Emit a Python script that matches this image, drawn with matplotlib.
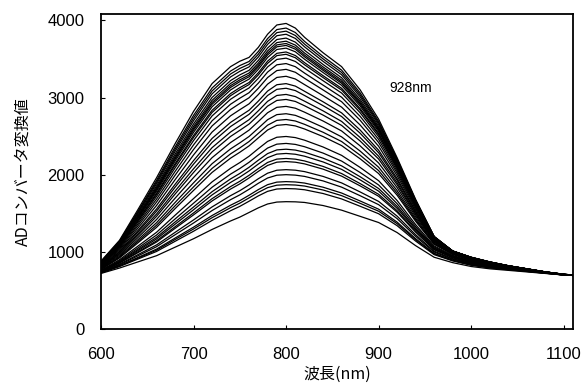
import numpy as np
import matplotlib.pyplot as plt

# wavelength grid [nm]
wavelength = [600, 620, 640, 660, 680, 700, 720, 740, 750, 760, 770, 780,
              790, 800, 810, 820, 840, 860, 880, 900, 920, 940, 960, 980,
              1000, 1020, 1040, 1060, 1080, 1100, 1110]
# brightest and weakest spectrum
top_spectrum = [880, 1150, 1550, 1960, 2400, 2820, 3180, 3400, 3470, 3520,
                3650, 3820, 3940, 3960, 3900, 3780, 3580, 3400, 3100, 2720,
                2220, 1680, 1200, 1010, 930, 870, 820, 780, 740, 710, 700]
low_spectrum = [720, 790, 870, 950, 1060, 1170, 1290, 1400, 1450, 1510,
                1570, 1620, 1645, 1650, 1648, 1640, 1600, 1540, 1460, 1380,
                1250, 1080, 930, 860, 810, 780, 760, 740, 720, 700, 695]
# common floor of all spectra
floor_level = 700
# peak value of each measured spectrum (around 800 nm)
peak_values = [3960, 3900, 3860, 3820, 3770, 3730, 3700, 3675, 3640, 3590,
               3560, 3510, 3440, 3365, 3275, 3180, 3120, 3040, 2975, 2885,
               2790, 2715, 2650, 2495, 2405, 2330, 2275, 2210, 2170, 2065,
               2000, 1910, 1870, 1820, 1650]

label_text = '928nm'

plt.rcParams['font.family'] = ['Liberation Sans', 'Noto Sans CJK JP', 'DejaVu Sans']
jp_font = ['Noto Sans CJK JP', 'DejaVu Sans']

fig = plt.figure(figsize=(5.84, 3.83), dpi=100)
ax = fig.add_axes([0.173, 0.141, 0.808, 0.822])

wl = np.array(wavelength)
top = np.array(top_spectrum, dtype=float)
low = np.array(low_spectrum, dtype=float)
top_shape = (top - floor_level) / (top.max() - floor_level)
low_shape = (low - floor_level) / (low.max() - floor_level)
p_lo, p_hi = min(peak_values), max(peak_values)
for peak in peak_values:
    w = (peak - p_lo) / (p_hi - p_lo)
    shape = w * top_shape + (1 - w) * low_shape
    ax.plot(wl, floor_level + (peak - floor_level) * shape, color='black', lw=0.9)

ax.text(935, 3120, label_text, fontsize=10, ha='center', va='center')

ax.set_xlim(600, 1110)
ax.set_ylim(0, 4080)
ax.set_xticks([600, 700, 800, 900, 1000, 1100])
ax.set_yticks([0, 1000, 2000, 3000, 4000])
ax.tick_params(direction='in', length=3, width=0.8, labelsize=12)
ax.tick_params(axis='x', pad=13)
ax.tick_params(axis='y', pad=12)
for sp in ax.spines.values():
    sp.set_linewidth(1.3)

ax.set_xlabel('波長(nm)', family=jp_font, fontsize=11.5, labelpad=3)
ax.set_ylabel('ADコンバータ変換値', family=jp_font, fontsize=11.5, labelpad=11)

fig.savefig('out.png', dpi=100)
